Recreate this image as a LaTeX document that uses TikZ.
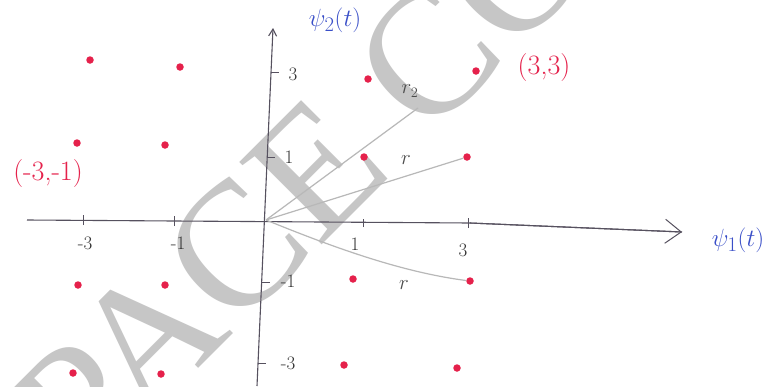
\documentclass[tikz,border=0pt]{standalone}
\usepackage{fontspec}
\newfontfamily\wmfont{Liberation Serif}
\usetikzlibrary{arrows.meta}
\definecolor{dotred}{HTML}{E5214B}
\definecolor{labblue}{HTML}{3A4FC8}
\definecolor{axisgray}{HTML}{56515F}
\definecolor{vecgray}{HTML}{B8B8B8}
\definecolor{wmgray}{HTML}{C6C6C6}
\tikzset{
  sigdot/.style={circle,fill=dotred,inner sep=0pt,minimum size=7.5pt},
  axisline/.style={draw=axisgray,line width=1.1pt},
  tickmark/.style={draw=axisgray,line width=1pt},
  vecline/.style={draw=vecgray,line width=1.2pt},
  ticklab/.style={text=black!80,font=\fontsize{19}{19}\selectfont,inner sep=0pt},
  redlab/.style={text=dotred,font=\fontsize{28}{28}\selectfont,inner sep=0pt},
  bluelab/.style={text=labblue,font=\fontsize{31}{31}\selectfont,inner sep=0pt},
  veclab/.style={text=black!70,font=\fontsize{20}{20}\selectfont,inner sep=0pt},
  watermark/.style={text=wmgray,font=\wmfont\fontsize{178}{178}\selectfont,inner sep=0pt,anchor=base west,rotate=45}
}
\begin{document}
\begin{tikzpicture}[x=1pt,y=-1pt]
\useasboundingbox (0,0) rectangle (784,386);
\fill[white] (0,0) rectangle (784,386);
% watermark
\node[watermark] (wm) at (85,482) {PACE CO};
% axes
\coordinate (hl) at (27,220);
\coordinate (hm) at (470,223);
\coordinate (hr) at (682,232);
\coordinate (vt) at (273,28);
\coordinate (vb) at (257,386);
\coordinate (o) at (266,220);
\draw[axisline] (hl) -- (hm) -- (hr);
\draw[axisline,-{Straight Barb[length=16pt,width=24pt,line width=1pt]}] (hm) -- (hr);
\draw[axisline,{Straight Barb[length=7pt,width=8pt]}-] (vt) -- (vb);
% ticks on horizontal axis
\coordinate (tx1) at (83,220);
\coordinate (tx2) at (174,221);
\coordinate (tx3) at (363,225);
\coordinate (tx4) at (468,223);
\foreach \t in {tx1,tx2,tx4} \draw[tickmark] ([yshift=-5pt]\t) -- ([yshift=5pt]\t);
\draw[tickmark] ([yshift=-2pt]tx3) -- ([yshift=6pt]tx3);
% ticks on vertical axis
\coordinate (ty1) at (271,72);
\coordinate (ty2) at (267,157);
\coordinate (ty3) at (262,282);
\coordinate (ty4) at (258,363);
\foreach \t in {ty1,ty2,ty3,ty4} \draw[tickmark] (\t) -- ([xshift=8pt]\t);
% tick labels
\node[ticklab] (l3y) at (293,74) {3};
\node[ticklab] (l1y) at (289,157) {1};
\node[ticklab] (lm1y) at (288,281) {-1};
\node[ticklab] (lm3y) at (288,363) {-3};
\node[ticklab] (lm3x) at (85,243) {-3};
\node[ticklab] (lm1x) at (178,243) {-1};
\node[ticklab] (l1x) at (355,244) {1};
\node[ticklab] (l3x) at (463,250) {3};
% axis labels
\node[bluelab] (psi2) at (335,20) {$\psi_2(t)$};
\node[bluelab] (psi1) at (738,240) {$\psi_1(t)$};
% signal points
\node[sigdot] (p1) at (90,60) {};
\node[sigdot] (p2) at (180,67) {};
\node[sigdot] (p3) at (368,79) {};
\node[sigdot] (p4) at (476,71) {};
\node[sigdot] (p5) at (77,143) {};
\node[sigdot] (p6) at (165,145) {};
\node[sigdot] (p7) at (364,157) {};
\node[sigdot] (p8) at (467,157) {};
\node[sigdot] (p9) at (78,285) {};
\node[sigdot] (p10) at (165,285) {};
\node[sigdot] (p11) at (353,279) {};
\node[sigdot] (p12) at (470,281) {};
\node[sigdot] (p13) at (73,373) {};
\node[sigdot] (p14) at (161,374) {};
\node[sigdot] (p15) at (344,365) {};
\node[sigdot] (p16) at (457,368) {};
% point labels
\node[redlab] (lab33) at (544,68) {(3,3)};
\node[redlab] (labm3m1) at (48,174) {(-3,-1)};
% received vectors
\coordinate (r2end) at (418,108);
\draw[vecline] (o) -- (r2end);
\draw[vecline] (o) -- (p8);
\draw[vecline] (o) .. controls (330,246) and (400,272) .. (p12);
\node[veclab] (r2) at (410,91) {$r_2$};
\node[veclab] (ra) at (406,160) {$r$};
\node[veclab] (rb) at (404,285) {$r$};
\end{tikzpicture}
\end{document}
